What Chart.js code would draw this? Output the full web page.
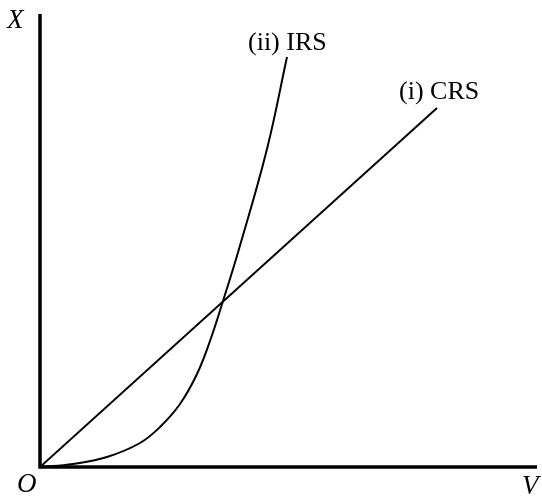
<!DOCTYPE html>
<html>
<head>
<meta charset="utf-8">
<style>
  html, body { margin: 0; padding: 0; background: #fff; }
  #wrap { width: 542px; height: 502px; }
</style>
<script src="https://cdn.jsdelivr.net/npm/chart.js@4.4.0/dist/chart.umd.min.js"></script>
</head>
<body>
<div id="wrap"><canvas id="c" width="542" height="502"></canvas></div>
<script>
// Data (in abstract units)
const crsX = [0, 397];
const crsY = [0, 359];
const irsX = [0, 33, 67, 100, 120, 140, 157, 170, 183, 199, 227, 247];
const irsY = [0, 3, 10, 24, 40, 63, 93, 126, 166, 218, 318, 410];
const xMax = 497;
const yMax = 453;
const seriesLabels = ['(i) CRS', '(ii) IRS'];
const axisLabels = { y: 'X', x: 'V', origin: 'O' };

const toPts = (xs, ys) => xs.map((x, i) => ({ x: x, y: ys[i] }));

const annotate = {
  id: 'annotate',
  afterDraw(chart) {
    const { ctx, chartArea: a, scales } = chart;
    const xs = scales.x, ys = scales.y;
    ctx.save();
    // axes
    ctx.strokeStyle = '#000';
    ctx.lineWidth = 3.5;
    ctx.lineCap = 'butt';
    ctx.beginPath();
    ctx.moveTo(xs.getPixelForValue(0), ys.getPixelForValue(yMax));
    ctx.lineTo(xs.getPixelForValue(0), ys.getPixelForValue(0));
    ctx.lineTo(xs.getPixelForValue(xMax), ys.getPixelForValue(0));
    ctx.stroke();
    // labels
    ctx.fillStyle = '#000';
    ctx.textBaseline = 'alphabetic';
    ctx.textAlign = 'left';
    ctx.font = 'italic 27px "Liberation Serif", "DejaVu Serif", serif';
    ctx.fillText(axisLabels.y, a.left - 33, a.top + 14);
    ctx.fillText(axisLabels.origin, a.left - 23, a.bottom + 25);
    ctx.fillText(axisLabels.x, a.right - 15, a.bottom + 27);
    ctx.font = '26px "Liberation Serif", "DejaVu Serif", serif';
    ctx.fillText(seriesLabels[1], xs.getPixelForValue(irsX[irsX.length - 1]) - 39, ys.getPixelForValue(irsY[irsY.length - 1]) - 7);
    ctx.fillText(seriesLabels[0], xs.getPixelForValue(crsX[crsX.length - 1]) - 38, ys.getPixelForValue(crsY[crsY.length - 1]) - 9);
    ctx.restore();
  }
};

new Chart(document.getElementById('c'), {
  type: 'line',
  data: {
    datasets: [
      {
        label: seriesLabels[0],
        data: toPts(crsX, crsY),
        borderColor: '#000',
        borderWidth: 2,
        pointRadius: 0,
        fill: false
      },
      {
        label: seriesLabels[1],
        data: toPts(irsX, irsY),
        borderColor: '#000',
        borderWidth: 2,
        pointRadius: 0,
        fill: false,
        tension: 0.4
      }
    ]
  },
  options: {
    responsive: false,
    animation: false,
    devicePixelRatio: 1,
    layout: { padding: { left: 40, top: 14, right: 5, bottom: 35 } },
    plugins: { legend: { display: false }, tooltip: { enabled: false } },
    scales: {
      x: { type: 'linear', min: 0, max: xMax, display: false },
      y: { type: 'linear', min: 0, max: yMax, display: false }
    }
  },
  plugins: [annotate]
});
</script>
</body>
</html>
